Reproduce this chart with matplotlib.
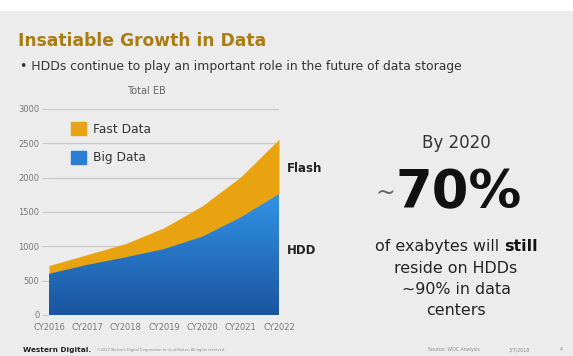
import numpy as np
import matplotlib.pyplot as plt
from matplotlib.patches import Patch
from matplotlib.colors import LinearSegmentedColormap

years = ['CY2016', 'CY2017', 'CY2018', 'CY2019', 'CY2020', 'CY2021', 'CY2022']
big_data = [600, 730, 840, 960, 1140, 1420, 1760]
fast_data = [120, 150, 200, 310, 450, 590, 800]
y_ticks = [0, 500, 1000, 1500, 2000, 2500, 3000]

bg = '#ececec'
orange = '#e9a210'
blue_top = '#3293e6'
blue_bot = '#1a559f'

fig = plt.figure(figsize=(5.73, 3.56), dpi=100, facecolor=bg)

# white strip across the top
fig.patches.append(plt.Rectangle((0, 0.968), 1, 0.032, transform=fig.transFigure,
                                 facecolor='white', edgecolor='none', zorder=0))

ax = fig.add_axes([0.0855, 0.1152, 0.4014, 0.5787])
ax.set_facecolor(bg)
x = np.arange(len(years))
total = np.array(big_data) + np.array(fast_data)

ax.fill_between(x, big_data, total, color=orange, lw=0, zorder=2)
hdd = ax.fill_between(x, 0, big_data, color='none', lw=0, zorder=2)

# vertical gradient for the HDD area, clipped to its polygon
cmap = LinearSegmentedColormap.from_list('hdd', [blue_bot, blue_top])
grad = np.linspace(0, 1, 256).reshape(-1, 1)
img = ax.imshow(grad, cmap=cmap, aspect='auto', origin='lower',
                extent=[0, len(years) - 1, 0, max(big_data)], zorder=2)
img.set_clip_path(hdd.get_paths()[0], transform=ax.transData)

ax.set_xlim(0, len(years) - 1)
ax.set_ylim(0, 3000)
ax.set_yticks(y_ticks)
ax.set_xticks(x, years)
ax.grid(axis='y', color='#c9c9c9', lw=1, zorder=1)
for s in ax.spines.values():
    s.set_visible(False)
ax.tick_params(axis='y', length=5, color='#c9c9c9', labelsize=6, labelcolor='#777777', pad=2)
ax.tick_params(axis='x', length=0, labelsize=6, labelcolor='#777777', pad=6)

ax.legend(handles=[Patch(color=orange, label='Fast Data'),
                   Patch(color='#2a7fd4', label='Big Data')],
          loc='upper left', bbox_to_anchor=(0.05, 0.99), frameon=False,
          fontsize=8.8, handlelength=1.2, handleheight=1.25, labelspacing=1.25,
          handletextpad=0.55, labelcolor='#333333')

ax.text(1.035, 2130, 'Flash', transform=ax.get_yaxis_transform(), fontsize=8.5,
        fontweight='bold', va='center', color='#222222')
ax.text(1.035, 940, 'HDD', transform=ax.get_yaxis_transform(), fontsize=8.5,
        fontweight='bold', va='center', color='#222222')
fig.text(0.255, 0.744, 'Total EB', fontsize=7, color='#666666', ha='center', va='center')

# slide header
fig.text(0.031, 0.884, 'Insatiable Growth in Data', fontsize=12.3, fontweight='bold',
         color='#a87d12', va='center')
fig.text(0.035, 0.812, '\u2022 HDDs continue to play an important role in the future of data storage',
         fontsize=8.9, color='#333333', va='center')

# right-hand callout
cx = 0.796
fig.text(cx, 0.598, 'By 2020', fontsize=12, color='#333333', ha='center', va='center')
fig.text(0.672, 0.458, '~', fontsize=17, color='#666666', ha='center', va='center')
fig.text(0.801, 0.458, '70%', fontsize=38, fontweight='bold', color='#111111',
         ha='center', va='center')

# first line mixes regular and bold words, so place them side by side
fs = 11.4
renderer = fig.canvas.get_renderer()
t1 = fig.text(0, 0.307, 'of exabytes will ', fontsize=fs, color='#222222', va='center')
t2 = fig.text(0, 0.307, 'still', fontsize=fs, fontweight='bold', color='#111111', va='center')
w1 = t1.get_window_extent(renderer).width / fig.bbox.width
w2 = t2.get_window_extent(renderer).width / fig.bbox.width
x0 = cx - (w1 + w2) / 2
t1.set_x(x0)
t2.set_x(x0 + w1)

fig.text(cx, 0.246, 'reside on HDDs', fontsize=fs, color='#222222', ha='center', va='center')
fig.text(cx, 0.186, '~90% in data', fontsize=fs, color='#222222', ha='center', va='center')
fig.text(cx, 0.129, 'centers', fontsize=fs, color='#222222', ha='center', va='center')

# footer
fig.text(0.040, 0.017, 'Western Digital.', fontsize=5.3, fontweight='bold', color='#222222', va='center')
fig.text(0.170, 0.017, '\u00a92017 Western Digital Corporation or its affiliates. All rights reserved.',
         fontsize=2.6, color='#8a8a8a', va='center')
fig.text(0.747, 0.017, 'Source: WDC Analysis', fontsize=3.4, color='#8a8a8a', va='center')
fig.text(0.887, 0.017, '3/7/2018', fontsize=3.4, color='#8a8a8a', va='center')
fig.text(0.977, 0.017, '4', fontsize=3.4, color='#8a8a8a', va='center')

fig.savefig('out.png', dpi=100, facecolor=bg)
